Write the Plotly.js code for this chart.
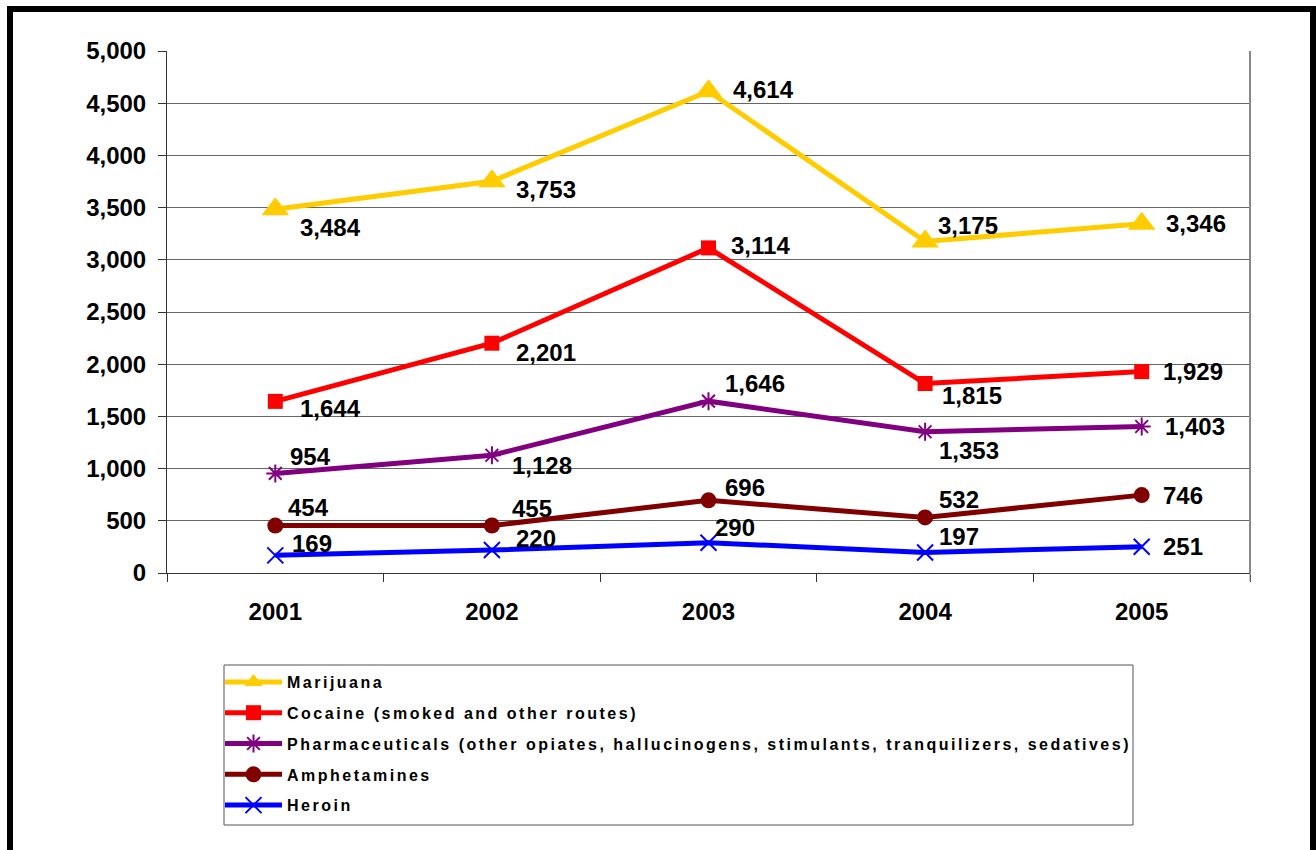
<!DOCTYPE html>
<html>
<head>
<meta charset="utf-8">
<script src="https://cdn.plot.ly/plotly-3.0.1.min.js"></script>
<style>
  html, body { margin: 0; padding: 0; overflow: hidden; background: #fff; }
  #chart { width: 1316px; height: 850px; }
  #frame { position: absolute; left: 7px; top: 6px; width: 1297px; height: 900px; border: 6px solid #000; pointer-events: none; }
  .legendtext { letter-spacing: 2.5px; }
</style>
</head>
<body>
<div id="chart"></div>
<div id="frame"></div>
<script>
const years = ['2001', '2002', '2003', '2004', '2005'];
const seriesNames = [
  'Marijuana',
  'Cocaine (smoked and other routes)',
  'Pharmaceuticals (other opiates, hallucinogens, stimulants, tranquilizers, sedatives)',
  'Amphetamines',
  'Heroin'
];
const marijuana = [3484, 3753, 4614, 3175, 3346];
const cocaine = [1644, 2201, 3114, 1815, 1929];
const pharmaceuticals = [954, 1128, 1646, 1353, 1403];
const amphetamines = [454, 455, 696, 532, 746];
const heroin = [169, 220, 290, 197, 251];
const yTicks = [0, 500, 1000, 1500, 2000, 2500, 3000, 3500, 4000, 4500, 5000];

const seriesValues = [marijuana, cocaine, pharmaceuticals, amphetamines, heroin];

// styles
const colors = ['#FFCC00', '#FF0000', '#800080', '#800000', '#0000FF'];
const symbols = ['triangle-up', 'square', 'asterisk-open', 'circle', 'x-thin-open'];
const msizes = [24, 15, 15, 16, 16];
// label offsets in px [dx, dy(down)] per series per point
const labelOffsets = [
  [[23, 18], [22, 8], [22, -2], [11, -16], [22, 0]],
  [[23, 7], [22, 9], [20, -2], [15, 12], [19, 0]],
  [[13, -17], [18, 10], [14, -18], [12, 19], [21, 0]],
  [[11, -18], [18, -17], [14, -13], [12, -18], [19, 0]],
  [[15, -12], [22, -12], [4, -15], [12, -16], [19, 0]]
];

const font = '"Liberation Sans", Arial, sans-serif';

const traces = seriesValues.map((vals, i) => ({
  type: 'scatter',
  mode: 'lines+markers',
  name: seriesNames[i],
  x: years,
  y: vals,
  legendgroup: 'g' + i,
  line: { color: colors[i], width: 5 },
  marker: {
    symbol: symbols[i],
    size: msizes[i],
    color: colors[i],
    line: { color: colors[i], width: (i === 2 || i === 4) ? 2 : 0 }
  },
  cliponaxis: false,
  hoverinfo: 'x+y'
}));

const annotations = [];
seriesValues.forEach((vals, i) => {
  vals.forEach((v, j) => {
    annotations.push({
      x: j, y: v, xref: 'x', yref: 'y',   // category index of years[j]
      text: v.toLocaleString('en-US'),
      showarrow: false,
      xanchor: 'left', yanchor: 'middle',
      xshift: labelOffsets[i][j][0],
      yshift: -labelOffsets[i][j][1],
      font: { family: font, size: 24, color: '#000', weight: 'bold' }
    });
  });
});

const plotW = 1083, plotH = 522, plotLeft = 167, plotTop = 51;
const px = x => (x - plotLeft) / plotW;
const py = y => (plotTop + plotH - y) / plotH;

const layout = {
  width: 1316, height: 850,
  margin: { l: 167, r: 66, t: 51, b: 277 },
  paper_bgcolor: '#fff', plot_bgcolor: '#fff',
  font: { family: font, color: '#000' },
  showlegend: true,
  xaxis: {
    type: 'category',
    range: [-0.5, 4.5],
    tickson: 'boundaries',
    ticks: 'outside', ticklen: 8, tickcolor: '#333', tickwidth: 1,
    showgrid: false,
    showline: true, linecolor: '#333', linewidth: 1,
    tickfont: { family: font, size: 24, weight: 'bold', color: '#000' },
    ticklabelstandoff: 17,
    fixedrange: true
  },
  yaxis: {
    range: [0, 5000],
    tickvals: yTicks,
    tickformat: ',',
    ticks: 'outside', ticklen: 8, tickcolor: '#333', tickwidth: 1,
    showgrid: true, gridcolor: '#666', gridwidth: 1,
    showline: true, linecolor: '#333', linewidth: 1,
    zeroline: false,
    tickfont: { family: font, size: 24, weight: 'bold', color: '#000' },
    ticklabelstandoff: 7,
    fixedrange: true
  },
  legend: {
    x: px(220), y: py(665), xanchor: 'left', yanchor: 'top',
    bgcolor: 'rgba(0,0,0,0)', borderwidth: 0,
    traceorder: 'grouped', tracegroupgap: 7,
    itemwidth: 57,
    font: { family: font, size: 16, weight: 'bold', color: '#000' }
  },
  shapes: [
    { type: 'rect', xref: 'paper', yref: 'paper', x0: px(224), x1: px(1133), y0: py(825), y1: py(665),
      line: { color: '#555', width: 1 }, fillcolor: 'rgba(0,0,0,0)' },
    { type: 'line', xref: 'paper', yref: 'paper', x0: 1, x1: 1, y0: 0, y1: 1,
      line: { color: '#888', width: 2 } },
    { type: 'line', xref: 'paper', yref: 'paper', x0: 1, x1: 1, y0: 0, y1: -8 / plotH,
      line: { color: '#888', width: 1 } }
  ],
  annotations: annotations
};

Plotly.newPlot('chart', traces, layout, { displayModeBar: false, staticPlot: true });
</script>
</body>
</html>
